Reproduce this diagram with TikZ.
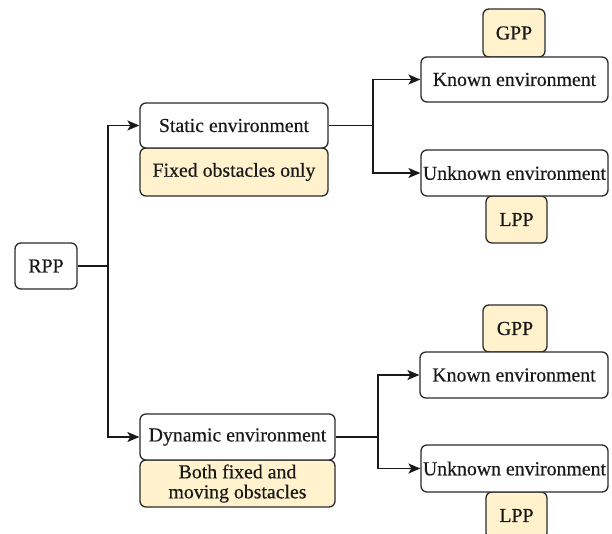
\documentclass[tikz,border=0pt]{standalone}
\usepackage{fontspec}
\setmainfont{Liberation Serif}
\newfontfamily\diagfont{Liberation Serif}[FakeBold=0.4]
\usetikzlibrary{arrows.meta}
\definecolor{noteyellow}{HTML}{FFF2CC}
\definecolor{edgegray}{HTML}{2B2B2B}
\tikzset{
  basebox/.style={draw=edgegray, line width=1.3pt, rounded corners=6pt, inner sep=0pt,
    font=\diagfont\fontsize{19.8}{20}\selectfont, text=black!90, align=center},
  whitebox/.style={basebox, fill=white},
  notebox/.style={basebox, fill=noteyellow},
  conn/.style={draw=black!90, line width=1.3pt},
  arr/.style={conn, -{Stealth[length=12pt,width=10pt,inset=3pt]}},
}
\begin{document}
\begin{tikzpicture}[x=1pt,y=-1pt]
\clip (0,0) rectangle (612,533);
\fill[white] (0,0) rectangle (612,533);
% left
\node[whitebox, minimum width=62pt, minimum height=46pt] (rpp) at (46,266) {RPP};
% static branch
\node[notebox, minimum width=188pt, minimum height=48pt] (fixed) at (234,172) {Fixed obstacles only};
\node[whitebox, minimum width=188pt, minimum height=45pt] (static) at (234,125.5) {Static environment};
\node[notebox, minimum width=62pt, minimum height=48pt] (gpp1) at (514,33) {GPP};
\node[whitebox, minimum width=187pt, minimum height=45pt] (known1) at (514.5,79.5) {Known environment};
\node[notebox, minimum width=61pt, minimum height=47pt] (lpp1) at (516.5,219.5) {LPP};
\node[whitebox, minimum width=187pt, minimum height=46pt] (unknown1) at (514.5,173) {Unknown environment};
% dynamic branch
\node[notebox, minimum width=195pt, minimum height=47pt] (both) at (237.5,483.5) {Both fixed and\\moving obstacles};
\node[whitebox, minimum width=195pt, minimum height=46pt] (dyn) at (237.5,437) {Dynamic environment};
\node[notebox, minimum width=64pt, minimum height=47pt] (gpp2) at (515,328.5) {GPP};
\node[whitebox, minimum width=188pt, minimum height=46pt] (known2) at (514,375) {Known environment};
\node[notebox, minimum width=61pt, minimum height=47pt] (lpp2) at (516.5,515.5) {LPP};
\node[whitebox, minimum width=187pt, minimum height=47pt] (unknown2) at (514.5,468.5) {Unknown environment};
% junctions
\coordinate (j1) at (108,266);
\coordinate (j2) at (373,125.5);
\coordinate (j3) at (378,437);
% connectors
\draw[conn] (rpp.east) -- (j1);
\draw[arr] (j1) |- (static.west);
\draw[arr] (j1) |- (dyn.west);
\draw[conn] (static.east) -- (j2);
\draw[arr] (j2) |- (known1.west);
\draw[arr] (j2) |- (unknown1.west);
\draw[conn] (dyn.east) -- (j3);
\draw[arr] (j3) |- (known2.west);
\draw[arr] (j3) |- (unknown2.west);
\end{tikzpicture}
\end{document}
